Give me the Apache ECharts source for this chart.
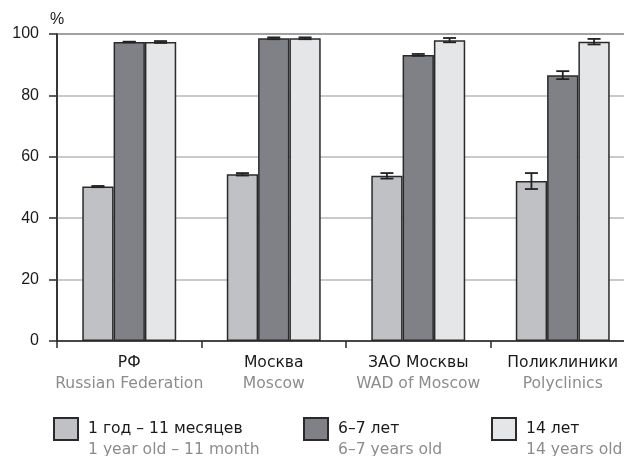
<!DOCTYPE html>
<html>
<head>
<meta charset="utf-8">
<script src="https://cdn.jsdelivr.net/npm/echarts@6/dist/echarts.min.js"></script>
<style>
  html, body { margin: 0; padding: 0; background: #fff; }
  #chart { width: 624px; height: 456px; }
</style>
</head>
<body>
<div id="chart"></div>
<script>
// Regions (Russian name + English subtitle)
const categoriesRu = ['РФ', 'Москва', 'ЗАО Москвы', 'Поликлиники'];
const categoriesEn = ['Russian Federation', 'Moscow', 'WAD of Moscow', 'Polyclinics'];

// Age groups (Russian name + English subtitle)
const groupsRu = ['1 год – 11 месяцев', '6–7 лет', '14 лет'];
const groupsEn = ['1 year old – 11 month', '6–7 years old', '14 years old'];

// Coverage, %, per age group across the regions
const valuesInfant = [50.3, 54.3, 53.8, 52.1];
const values6to7 = [97.4, 98.6, 93.2, 86.6];
const values14 = [97.4, 98.6, 98.0, 97.5];

// Error half-widths, %
const errInfant = [0.2, 0.4, 0.9, 2.6];
const err6to7 = [0.1, 0.3, 0.3, 1.3];
const err14 = [0.3, 0.3, 0.7, 0.9];

// Value axis ticks
const yTicks = [0, 20, 40, 60, 80, 100];

const seriesValues = [valuesInfant, values6to7, values14];
const seriesErrors = [errInfant, err6to7, err14];
const fills = ['#c0c1c5', '#808186', '#e5e6e8'];
const FONT = 'Liberation Sans, Arial, sans-serif';
const TEXT_FONT = 'DejaVu Sans, sans-serif';
const TEXT_SIZE = 15.6;
const CAT_GAP = 0.35;

const chart = echarts.init(document.getElementById('chart'), null, { renderer: 'canvas' });

const barSeries = seriesValues.map((vals, i) => ({
  type: 'bar',
  name: groupsRu[i],
  data: vals,
  barGap: '0%',
  barCategoryGap: (CAT_GAP * 100) + '%',
  itemStyle: { color: fills[i], borderColor: '#2a2a2a', borderWidth: 1.5 },
  emphasis: { disabled: true },
  z: 2
}));

const errData = [];
seriesValues.forEach((vals, si) => {
  vals.forEach((v, ci) => errData.push([ci, v, seriesErrors[si][ci], si]));
});

const errorSeries = {
  type: 'custom',
  name: 'err',
  data: errData,
  encode: { x: 0, y: 1 },
  z: 5,
  silent: true,
  renderItem: function (params, api) {
    const ci = api.value(0), v = api.value(1), e = api.value(2), si = api.value(3);
    const c = api.coord([ci, v]);
    const band = api.size([1, 0])[0];
    const bw = band * (1 - CAT_GAP) / 3;
    const x = c[0] + (si - 1) * bw;
    const top = api.coord([ci, v + e])[1];
    const bot = api.coord([ci, v - e])[1];
    const half = 6.5;
    const st = { stroke: '#222', lineWidth: 1.8 };
    return {
      type: 'group',
      children: [
        { type: 'line', shape: { x1: x, y1: top, x2: x, y2: bot }, style: st },
        { type: 'line', shape: { x1: x - half, y1: top, x2: x + half, y2: top }, style: st },
        { type: 'line', shape: { x1: x - half, y1: bot, x2: x + half, y2: bot }, style: st }
      ]
    };
  }
};

const legendLefts = [48, 298, 486];
const legends = groupsRu.map((g, i) => ({
  data: [g],
  left: legendLefts[i],
  top: 395,
  orient: 'horizontal',
  icon: 'rect',
  itemWidth: 24,
  itemHeight: 22,
  selectedMode: false,
  formatter: function (name) {
    const k = groupsRu.indexOf(name);
    return '{s|}\n{a|' + name + '}\n{b|' + groupsEn[k] + '}';
  },
  textStyle: {
    fontFamily: TEXT_FONT,
    rich: {
      s: { fontSize: TEXT_SIZE, lineHeight: 21, fontFamily: TEXT_FONT },
      a: { fontSize: TEXT_SIZE, lineHeight: 21, color: '#1a1a1a', fontFamily: TEXT_FONT, padding: [0, 0, 0, 5] },
      b: { fontSize: TEXT_SIZE, lineHeight: 21, color: '#8c8c8c', fontFamily: TEXT_FONT, padding: [0, 0, 0, 5] }
    }
  }
}));

chart.setOption({
  animation: false,
  backgroundColor: '#ffffff',
  textStyle: { fontFamily: FONT },
  grid: {
    left: 57,
    top: 34,
    width: 578,
    height: 307,
    outerBoundsMode: 'none',
    containLabel: false,
    show: true,
    borderColor: '#2a2a2a',
    borderWidth: 1.5,
    backgroundColor: 'transparent'
  },
  legend: legends,
  xAxis: {
    type: 'category',
    data: categoriesRu,
    boundaryGap: true,
    axisLine: { lineStyle: { color: '#2a2a2a', width: 1.5 } },
    axisTick: { show: true, length: 7, lineStyle: { color: '#2a2a2a', width: 1.5 } },
    axisLabel: {
      margin: 11,
      interval: 0,
      formatter: function (val, idx) {
        return '{a|' + val + '}\n{b|' + categoriesEn[idx] + '}';
      },
      rich: {
        a: { fontSize: TEXT_SIZE, lineHeight: 21.5, color: '#1a1a1a', fontFamily: TEXT_FONT },
        b: { fontSize: TEXT_SIZE, lineHeight: 21.5, color: '#8c8c8c', fontFamily: TEXT_FONT }
      }
    },
    splitLine: { show: false }
  },
  yAxis: {
    type: 'value',
    min: yTicks[0],
    max: yTicks[yTicks.length - 1],
    interval: yTicks[1] - yTicks[0],
    name: '%',
    nameLocation: 'end',
    nameGap: 6,
    nameTextStyle: { fontSize: 16, color: '#1a1a1a', fontFamily: FONT, align: 'center' },
    axisLine: { show: true, lineStyle: { color: '#2a2a2a', width: 1.5 } },
    axisTick: { show: true, length: 8, lineStyle: { color: '#2a2a2a', width: 1.5 } },
    axisLabel: { margin: 18, fontSize: 16, color: '#1a1a1a', fontFamily: FONT },
    splitLine: { show: true, lineStyle: { color: '#b9b9b9', width: 1.5 } }
  },
  series: barSeries.concat([errorSeries])
});
</script>
</body>
</html>
